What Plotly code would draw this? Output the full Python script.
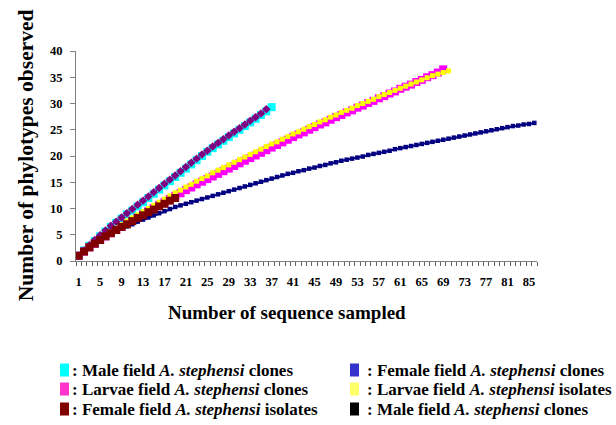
import plotly.graph_objects as go

# ---- data ----
male_clones = [1.0, 2.0, 2.9, 3.8, 4.7, 5.6, 6.5, 7.3, 8.1, 8.9,
               9.6, 10.4, 11.2, 12.0, 12.8, 13.6, 14.4, 15.2, 16.0, 16.8,
               17.6, 18.4, 19.2, 20.0, 20.8, 21.5, 22.2, 22.9, 23.6, 24.3,
               25.0, 25.7, 26.4, 27.1, 27.8, 28.5, 29.3]
male_clones_b = [1.0, 2.0, 3.0, 4.0, 4.9, 5.8, 6.7, 7.5, 8.3, 9.1,
                 9.9, 10.7, 11.5, 12.3, 13.1, 13.9, 14.7, 15.5, 16.3, 17.1,
                 17.9, 18.7, 19.5, 20.3, 21.0, 21.8, 22.5, 23.2, 23.9, 24.6,
                 25.3, 26.0, 26.7, 27.4, 28.1, 28.9]
larvae_clones = [1.0, 1.8, 2.6, 3.3, 4.0, 4.7, 5.3, 5.9, 6.5, 7.1,
                 7.7, 8.3, 8.9, 9.5, 10.1, 10.7, 11.2, 11.8, 12.4, 12.9,
                 13.5, 14.0, 14.6, 15.1, 15.6, 16.1, 16.6, 17.1, 17.6, 18.1,
                 18.6, 19.1, 19.6, 20.1, 20.6, 21.1, 21.6, 22.1, 22.6, 23.1,
                 23.6, 24.1, 24.5, 25.0, 25.5, 26.0, 26.4, 26.9, 27.4, 27.8,
                 28.3, 28.7, 29.2, 29.6, 30.1, 30.5, 31.0, 31.4, 31.9, 32.3,
                 32.8, 33.2, 33.6, 34.1, 34.5, 35.0, 35.4, 35.9, 36.5]
larvae_isolates = [1.0, 1.9, 2.7, 3.5, 4.2, 4.9, 5.6, 6.3, 6.9, 7.6,
                   8.2, 8.8, 9.4, 10.0, 10.6, 11.2, 11.8, 12.4, 13.0, 13.5,
                   14.1, 14.6, 15.2, 15.7, 16.2, 16.8, 17.3, 17.8, 18.3, 18.8,
                   19.3, 19.8, 20.3, 20.8, 21.3, 21.8, 22.3, 22.7, 23.2, 23.7,
                   24.2, 24.6, 25.1, 25.6, 26.0, 26.5, 26.9, 27.4, 27.8, 28.3,
                   28.7, 29.1, 29.6, 30.0, 30.4, 30.8, 31.3, 31.7, 32.1, 32.5,
                   32.9, 33.3, 33.7, 34.1, 34.5, 34.9, 35.3, 35.6, 35.9, 36.2]
female_clones = [1.0, 1.9, 2.7, 3.4, 4.0, 4.6, 5.2, 5.7, 6.2, 6.6,
                 7.0, 7.5, 7.9, 8.3, 8.7, 9.1, 9.5, 9.9, 10.3, 10.6,
                 10.9, 11.2, 11.5, 11.8, 12.1, 12.4, 12.7, 13.0, 13.3, 13.6,
                 13.9, 14.2, 14.5, 14.8, 15.1, 15.4, 15.7, 16.0, 16.3, 16.6,
                 16.8, 17.1, 17.3, 17.6, 17.8, 18.1, 18.3, 18.6, 18.8, 19.1,
                 19.3, 19.5, 19.7, 19.9, 20.2, 20.4, 20.6, 20.8, 21.0, 21.3,
                 21.5, 21.7, 21.9, 22.1, 22.3, 22.5, 22.7, 22.9, 23.1, 23.3,
                 23.5, 23.7, 23.9, 24.1, 24.3, 24.5, 24.7, 24.9, 25.1, 25.3,
                 25.5, 25.7, 25.8, 26.0, 26.1, 26.3]
female_isolates = [1.0, 1.8, 2.6, 3.3, 4.0, 4.7, 5.3, 5.9, 6.5, 7.0,
                   7.6, 8.2, 8.7, 9.3, 9.8, 10.4, 10.9, 11.5, 12.0]

x_tick_labels = [str(v) for v in range(1, 86, 4)]

legend_items = [
    (": Male field <i>A. stephensi</i> clones", "#00FFFF"),
    (": Larvae field <i>A. stephensi</i> clones", "#FF33CC"),
    (": Female field <i>A. stephensi</i> isolates", "#800000"),
    (": Female field <i>A. stephensi</i> clones", "#3333CC"),
    (": Larvae field <i>A. stephensi</i> isolates", "#FFFF66"),
    (": Male field <i>A. stephensi</i> clones", "#000000"),
]

SERIF = "Liberation Serif, Times New Roman, serif"

def xs(vals):
    return list(range(1, len(vals) + 1))

fig = go.Figure()
series = [
    (male_clones, "#00FFFF", "square", 8, 1.5),
    (larvae_clones, "#FF00FF", "square", 8, 1.5),
    (larvae_isolates, "#FFFF00", "square", 5, 1.2),
    (female_clones, "#000080", "square", 4.5, 2),
    (male_clones_b, "#800080", "diamond", 6.5, 1.0),
    (female_isolates, "#800000", "square", 8, 1.5),
]
for vals, col, sym, ms, lw in series:
    fig.add_trace(go.Scatter(
        x=xs(vals), y=vals, mode="lines+markers",
        line=dict(color=col, width=lw),
        marker=dict(symbol=sym, size=ms, color=col, line=dict(width=0)),
        showlegend=False, hoverinfo="skip"))

tickfont = dict(family=SERIF, size=12.5, color="black", weight="bold")
fig.update_layout(
    width=616, height=425,
    margin=dict(l=76, r=79, t=51, b=164),
    paper_bgcolor="white", plot_bgcolor="white",
    font=dict(family=SERIF, size=12, color="black"),
    xaxis=dict(
        range=[0.5, 86.5], tickmode="array",
        tickvals=list(range(1, 86, 4)), ticktext=x_tick_labels,
        ticks="", showgrid=False, zeroline=False,
        showline=True, linecolor="#808080", linewidth=1,
        tickfont=tickfont, ticklabelstandoff=9,
        minor=dict(tickmode="array", tickvals=[i + 0.5 for i in range(0, 87)],
                   ticks="outside", ticklen=4, tickcolor="#606060", showgrid=False),
    ),
    yaxis=dict(
        range=[0, 40], dtick=5, ticks="outside", ticklen=5, tickcolor="#808080",
        showgrid=False, zeroline=False, showline=True, linecolor="#808080",
        tickfont=tickfont, ticklabelstandoff=5,
    ),
)

annotations = [
    dict(text="<b>Number of phylotypes observed</b>", textangle=-90,
         xref="paper", yref="paper", x=-0.108, y=0.505, showarrow=False,
         xanchor="center", yanchor="middle",
         font=dict(family=SERIF, size=21.5, color="black")),
    dict(text="<b>Number of sequence sampled</b>",
         xref="paper", yref="paper", x=0.458, y=-0.243, showarrow=False,
         xanchor="center", yanchor="middle",
         font=dict(family=SERIF, size=19, color="black")),
]
shapes = []
rows_py = [370, 389, 409]
for i, (txt, col) in enumerate(legend_items):
    colx = i // 3
    py = rows_py[i % 3]
    tx = 70 if colx == 0 else 365
    sx0 = 60 if colx == 0 else 350
    yp = (261 - py) / 210.0
    annotations.append(dict(
        text="<b>" + txt + "</b>", xref="paper", yref="paper",
        x=(tx - 76) / 461.0, y=yp, xanchor="left", yanchor="middle",
        showarrow=False, font=dict(family=SERIF, size=17, color="black")))
    shapes.append(dict(
        type="rect", xref="paper", yref="paper",
        x0=(sx0 - 76) / 461.0, x1=(sx0 + 9 - 76) / 461.0,
        y0=yp - 6.5 / 210.0, y1=yp + 6.5 / 210.0,
        fillcolor=col, line=dict(width=0)))
fig.update_layout(annotations=annotations, shapes=shapes)

fig.write_html("out.html", config={"displayModeBar": False},
               post_script="document.body.style.margin='0';document.body.style.overflow='hidden';")
